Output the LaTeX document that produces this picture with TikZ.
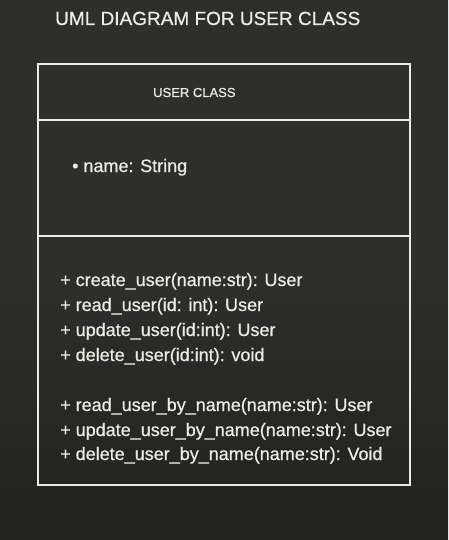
\documentclass[tikz,border=0pt]{standalone}
\usepackage{fontspec}
\setmainfont{Liberation Sans}[FakeBold=0.6]
\definecolor{screen}{RGB}{46,46,44}
\definecolor{screendark}{RGB}{33,33,32}
\definecolor{ink}{RGB}{238,236,226}

\tikzset{
  title/.style={anchor=base west,inner sep=0pt,text=ink,font=\fontsize{19}{23}\selectfont},
  head/.style={anchor=base west,inner sep=0pt,text=ink,font=\fontsize{13}{16}\selectfont},
  member/.style={anchor=base west,inner sep=0pt,text=ink,font=\fontsize{18}{22}\selectfont}
}

\begin{document}
\begin{tikzpicture}[x=1pt,y=-1pt]

  \shade[top color=screen,bottom color=screendark,middle color=screen] (0,0) rectangle (448,540);
  \useasboundingbox (0,0) rectangle (448,540);

  \node[title] (ttl) at (55,25) {UML DIAGRAM FOR USER CLASS};

  \coordinate (nw) at (38,64);
  \coordinate (ne) at (410,64);
  \coordinate (sw) at (38,485);
  \coordinate (se) at (410,485);
  \coordinate (aw) at (38,120);
  \coordinate (ae) at (410,120);
  \coordinate (bw) at (38,236);
  \coordinate (be) at (410,236);

  \draw[ink,line width=1.2pt] (nw) -- (ne) -- (se) -- (sw) -- cycle;
  \draw[ink,line width=1.2pt] (aw) -- (ae) (bw) -- (be);

  \node[head] (cls) at (153,97) {USER CLASS};
  \node[member] (attr) at (72,172) {\textbullet\ name: String};

  \foreach \n/\y/\txt in {
    m1/286/{+ create\_user(name:str): User},
    m2/311/{+ read\_user(id: int): User},
    m3/336/{+ update\_user(id:int): User},
    m4/361/{+ delete\_user(id:int): void},
    m5/411/{+ read\_user\_by\_name(name:str): User},
    m6/436/{+ update\_user\_by\_name(name:str): User},
    m7/460/{+ delete\_user\_by\_name(name:str): Void}}
    \node[member] (\n) at (60,\y) {\txt};

\end{tikzpicture}
\end{document}
